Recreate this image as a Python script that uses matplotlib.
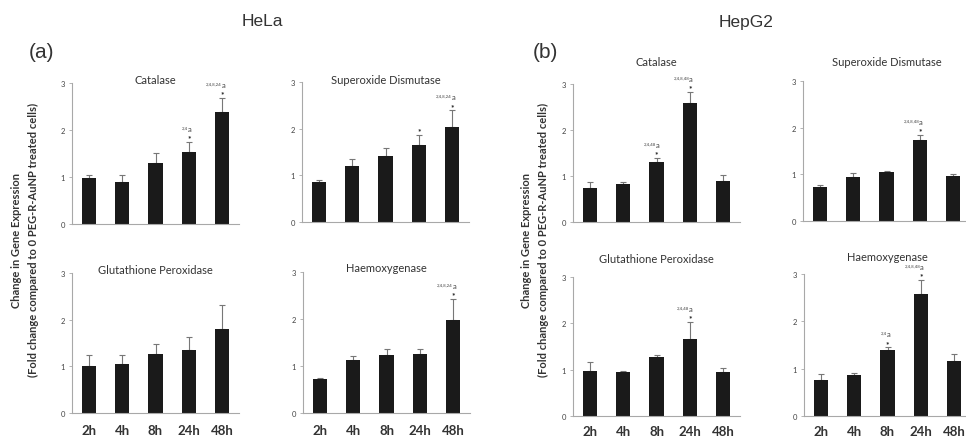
import matplotlib
matplotlib.use("Agg")
import matplotlib.pyplot as plt

plt.rcParams['font.family'] = ['Lato', 'DejaVu Sans']

times = ["2h", "4h", "8h", "24h", "48h"]

# HeLa cells
hela_cat = [0.98, 0.90, 1.29, 1.54, 2.38]
hela_cat_err = [0.06, 0.14, 0.22, 0.20, 0.30]
hela_sod = [0.85, 1.21, 1.42, 1.64, 2.03]
hela_sod_err = [0.04, 0.15, 0.17, 0.22, 0.36]
hela_gpx = [1.00, 1.05, 1.27, 1.35, 1.80]
hela_gpx_err = [0.25, 0.20, 0.20, 0.28, 0.52]
hela_ho = [0.72, 1.12, 1.23, 1.25, 1.98]
hela_ho_err = [0.03, 0.09, 0.13, 0.11, 0.44]

# HepG2 cells
hepg2_cat = [0.74, 0.82, 1.30, 2.58, 0.90]
hepg2_cat_err = [0.13, 0.05, 0.09, 0.25, 0.12]
hepg2_sod = [0.72, 0.95, 1.04, 1.73, 0.97]
hepg2_sod_err = [0.05, 0.07, 0.04, 0.12, 0.04]
hepg2_gpx = [0.97, 0.95, 1.27, 1.67, 0.96]
hepg2_gpx_err = [0.20, 0.02, 0.05, 0.36, 0.08]
hepg2_ho = [0.77, 0.86, 1.40, 2.58, 1.16]
hepg2_ho_err = [0.12, 0.04, 0.05, 0.30, 0.15]

# significance marks: (bar index, superscript list or None)
hela_cat_sig = [(3, "2,4"), (4, "2,4,8,24")]
hela_sod_sig = [(3, None), (4, "2,4,8,24")]
hela_gpx_sig = []
hela_ho_sig = [(4, "2,4,8,24")]
hepg2_cat_sig = [(2, "2,4,48"), (3, "2,4,8,48")]
hepg2_sod_sig = [(3, "2,4,8,48")]
hepg2_gpx_sig = [(3, "2,4,48")]
hepg2_ho_sig = [(2, "2,4"), (3, "2,4,8,48")]

W, H = 966, 439
fig = plt.figure(figsize=(W / 100, H / 100), dpi=100)
fig.patch.set_facecolor("white")

SPINE = "#a8a8a8"
TXT = "#333333"


def panel(left, ytop, ybot, title, title_y, vals, errs, sigs, xlabels,
          xpad=8):
    ax = fig.add_axes([left / W, 1 - ybot / H, 167 / W, (ybot - ytop) / H])
    x = range(len(vals))
    ax.bar(x, vals, width=0.42, color="#1a1a1a", zorder=2)
    ax.errorbar(x, vals, yerr=[[0] * len(errs), errs], fmt="none",
                ecolor="#777777", elinewidth=0.8, capsize=2, capthick=0.8,
                zorder=1)
    ax.set_xlim(-0.5, 4.5)
    ax.set_ylim(0, 3)
    ax.set_yticks([0, 1, 2, 3])
    ax.set_xticks(list(x))
    for s in ("top", "right"):
        ax.spines[s].set_visible(False)
    for s in ("left", "bottom"):
        ax.spines[s].set_color(SPINE)
        ax.spines[s].set_linewidth(0.8)
    ax.tick_params(axis="y", length=2, width=0.6, color=SPINE,
                   labelsize=5.5, labelcolor="#444444", pad=3)
    if xlabels:
        ax.set_xticklabels(times, fontsize=9.5, fontweight="bold", color=TXT)
        ax.tick_params(axis="x", length=0, pad=xpad)
    else:
        ax.set_xticklabels([])
        ax.tick_params(axis="x", length=0)
    ax.set_facecolor("none")
    fig.text((left + 83.5) / W, 1 - title_y / H, title, ha="center",
             va="center", fontsize=8, color=TXT)
    for i, lab in sigs:
        top = vals[i] + errs[i]
        ax.annotate("*", (i, top), xytext=(0, 0.5), textcoords="offset points",
                    ha="center", va="bottom", fontsize=6, fontweight="bold",
                    color="#222222")
        if lab:
            ax.annotate(lab, (i, top), xytext=(-0.5, 9),
                        textcoords="offset points", ha="right",
                        va="bottom", fontsize=3.2, color="#444444")
            ax.annotate("a", (i, top), xytext=(-0.5, 7.2),
                        textcoords="offset points", ha="left",
                        va="bottom", fontsize=5.5, color="#444444")
    return ax


panel(72, 84, 225, "Catalase", 80, hela_cat, hela_cat_err, hela_cat_sig, False)
panel(302, 83, 223, "Superoxide Dismutase", 80, hela_sod, hela_sod_err, hela_sod_sig, False)
panel(72, 274, 414, "Glutathione Peroxidase", 270, hela_gpx, hela_gpx_err, hela_gpx_sig, True, 8)
panel(303, 273, 414, "Haemoxygenase", 269, hela_ho, hela_ho_err, hela_ho_sig, True, 8)

panel(573, 85, 223, "Catalase", 63, hepg2_cat, hepg2_cat_err, hepg2_cat_sig, False)
panel(803, 82, 222, "Superoxide Dismutase", 62, hepg2_sod, hepg2_sod_err, hepg2_sod_sig, False)
panel(573, 278, 417, "Glutathione Peroxidase", 260, hepg2_gpx, hepg2_gpx_err, hepg2_gpx_sig, True, 6.5)
panel(804, 275, 417, "Haemoxygenase", 258, hepg2_ho, hepg2_ho_err, hepg2_ho_sig, True, 6.5)

# cell line headings and panel letters
fig.text(262 / W, 1 - 22 / H, "HeLa", ha="center", va="center",
         fontsize=12.5, color=TXT, family=["Liberation Sans", "DejaVu Sans"])
fig.text(746 / W, 1 - 22 / H, "HepG2", ha="center", va="center",
         fontsize=12.5, color=TXT, family=["Liberation Sans", "DejaVu Sans"])
fig.text(42 / W, 1 - 52 / H, "(a)", ha="center", va="center",
         fontsize=15, color=TXT, family=["Liberation Sans", "DejaVu Sans"])
fig.text(545 / W, 1 - 52 / H, "(b)", ha="center", va="center",
         fontsize=15, color=TXT, family=["Liberation Sans", "DejaVu Sans"])

# shared y-axis labels
for x1, x2 in ((17, 33), (527, 543)):
    fig.text(x1 / W, 1 - 240 / H, "Change in Gene Expression", rotation=90,
             ha="center", va="center", fontsize=8, fontweight="bold", color=TXT)
    fig.text(x2 / W, 1 - 240 / H,
             "(Fold change compared to 0 PEG-R-AuNP treated cells)",
             rotation=90, ha="center", va="center", fontsize=8,
             fontweight="bold", color=TXT)

fig.savefig("out.png", dpi=100, facecolor="white")
